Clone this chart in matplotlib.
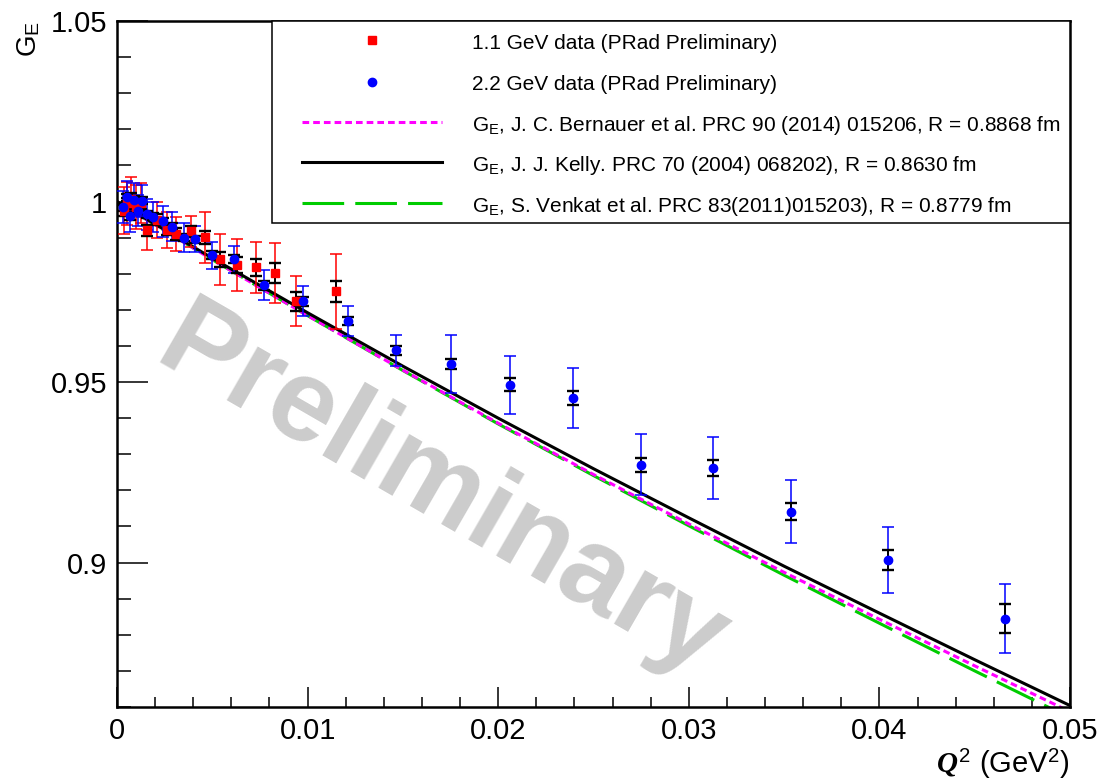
import numpy as np
import matplotlib
matplotlib.use('Agg')
import matplotlib.pyplot as plt
from matplotlib.ticker import MultipleLocator, FixedLocator, FixedFormatter
from matplotlib.patches import Rectangle

plt.rcParams['font.family'] = 'Liberation Sans'
plt.rcParams['mathtext.fontset'] = 'custom'
plt.rcParams['mathtext.rm'] = 'Liberation Sans'
plt.rcParams['mathtext.it'] = 'Liberation Serif:italic:bold'
plt.rcParams['lines.scale_dashes'] = False

# 1.1 GeV data (PRad preliminary)
q2_11 = [0.00035, 0.00055, 0.00075, 0.0010, 0.00125, 0.0016, 0.0021, 0.0026, 0.0031,
         0.0039, 0.0046, 0.0054, 0.0063, 0.0073, 0.0083, 0.0094, 0.0115]
ge_11 = [0.9975, 0.9995, 1.0008, 0.9985, 0.9995, 0.9920, 0.9950, 0.9922, 0.9910,
         0.9917, 0.9901, 0.9840, 0.9823, 0.9818, 0.9802, 0.9724, 0.9751]
tot_11 = [0.0065, 0.006, 0.006, 0.006, 0.0055, 0.0055, 0.005, 0.005, 0.0048,
          0.0044, 0.007, 0.007, 0.0072, 0.007, 0.0083, 0.007, 0.0104]
stat_11 = [0.0015, 0.0015, 0.0015, 0.0015, 0.0015, 0.0015, 0.0015, 0.0015, 0.0016,
           0.0016, 0.0018, 0.002, 0.0022, 0.0024, 0.0028, 0.0026, 0.0028]

# 2.2 GeV data (PRad preliminary)
q2_22 = [0.0003, 0.0005, 0.0007, 0.0009, 0.0011, 0.0013, 0.0016, 0.0019, 0.0024,
         0.0029, 0.0035, 0.0041, 0.0050, 0.00615, 0.0077, 0.00975, 0.0121, 0.01465,
         0.0175, 0.0206, 0.0239, 0.02747, 0.03125, 0.03535, 0.04044, 0.0466]
ge_22 = [0.9985, 1.0012, 0.9960, 1.0005, 0.9975, 1.0002, 0.9965, 0.9958, 0.9945,
         0.9930, 0.9900, 0.9895, 0.9851, 0.9840, 0.9768, 0.9724, 0.9669, 0.9588,
         0.9550, 0.9492, 0.9456, 0.9271, 0.9262, 0.9141, 0.9008, 0.8845]
tot_22 = [0.0045, 0.0045, 0.0045, 0.0045, 0.0044, 0.0044, 0.0043, 0.0042, 0.0042,
          0.004, 0.004, 0.0036, 0.0037, 0.0037, 0.0041, 0.0041, 0.0041, 0.0043,
          0.0081, 0.0081, 0.0083, 0.0084, 0.0087, 0.0088, 0.0091, 0.0095]
stat_22 = [0.001, 0.001, 0.001, 0.001, 0.001, 0.001, 0.001, 0.001, 0.001,
           0.001, 0.001, 0.001, 0.0011, 0.0011, 0.0012, 0.0012, 0.0012, 0.0012,
           0.0015, 0.0018, 0.0019, 0.0020, 0.0022, 0.0024, 0.0028, 0.0040]

# model curves
q2_fit = [0, 0.005, 0.01, 0.015, 0.02, 0.025, 0.03, 0.035, 0.04, 0.045, 0.05]
ge_bernauer = [1.0, 0.9839, 0.9684, 0.9533, 0.9386, 0.9244, 0.9107, 0.8973, 0.8843, 0.8714, 0.8587]
ge_kelly = [1.0, 0.9843, 0.9692, 0.9544, 0.9400, 0.9260, 0.9124, 0.8990, 0.8860, 0.8731, 0.8604]
ge_venkat = [1.0, 0.9839, 0.9684, 0.9532, 0.9384, 0.9241, 0.9102, 0.8965, 0.8832, 0.8700, 0.8570]

labels = ['1.1 GeV data (PRad Preliminary)',
          '2.2 GeV data (PRad Preliminary)',
          r'G$_\mathrm{E}$, J. C. Bernauer et al. PRC 90 (2014) 015206, R = 0.8868 fm',
          r'G$_\mathrm{E}$, J. J. Kelly. PRC 70 (2004) 068202), R = 0.8630 fm',
          r'G$_\mathrm{E}$, S. Venkat et al. PRC 83(2011)015203), R = 0.8779 fm']

W, H = 1101, 781
fig = plt.figure(figsize=(W / 100, H / 100), dpi=100)
x0, x1, y0, y1 = 117, 1070, 21, 707
ax = fig.add_axes([x0 / W, 1 - y1 / H, (x1 - x0) / W, (y1 - y0) / H])

ax.set_xlim(0, 0.05)
ax.set_ylim(0.860, 1.05)

magenta_dash = (0, (4.8, 2.9))
green_dash = (0, (30, 8))
ax.plot(q2_fit, ge_venkat, color='#00cc00', lw=2.2, linestyle=green_dash, zorder=2)
ax.plot(q2_fit, ge_bernauer, color='#ff00ff', lw=2.2, linestyle=magenta_dash, zorder=2.1)
ax.plot(q2_fit, ge_kelly, color='black', lw=2.2, zorder=2.2)

ax.errorbar(q2_11, ge_11, yerr=tot_11, fmt='none', ecolor='red', elinewidth=1.1,
            capsize=4.4, capthick=1.1, zorder=3)
ax.errorbar(q2_22, ge_22, yerr=tot_22, fmt='none', ecolor='blue', elinewidth=1.1,
            capsize=4.4, capthick=1.1, zorder=3)
ax.errorbar(q2_11, ge_11, yerr=stat_11, fmt='none', ecolor='black', elinewidth=1.4,
            capsize=4.4, capthick=1.7, zorder=4)
ax.errorbar(q2_22, ge_22, yerr=stat_22, fmt='none', ecolor='black', elinewidth=1.4,
            capsize=4.4, capthick=1.7, zorder=4)
ax.plot(q2_11, ge_11, 's', color='red', ms=6.2, mec='red', zorder=5)
ax.plot(q2_22, ge_22, 'o', color='blue', ms=6.0, mec='blue', zorder=5)

# watermark
ax.text((442 - x0) / (x1 - x0), (y1 - 494) / (y1 - y0), 'Preliminary',
        transform=ax.transAxes, rotation=-30, fontsize=84, fontweight='bold',
        color='#cccccc', ha='center', va='center', zorder=1)

# axes styling (ROOT look)
ax.xaxis.set_major_locator(FixedLocator([0, 0.01, 0.02, 0.03, 0.04, 0.05]))
ax.xaxis.set_major_formatter(FixedFormatter(['0', '0.01', '0.02', '0.03', '0.04', '0.05']))
ax.xaxis.set_minor_locator(MultipleLocator(0.002))
ax.yaxis.set_major_locator(FixedLocator([0.9, 0.95, 1.0, 1.05]))
ax.yaxis.set_major_formatter(FixedFormatter(['0.9', '0.95', '1', '1.05']))
ax.yaxis.set_minor_locator(MultipleLocator(0.01))
ax.tick_params(which='both', direction='in', top=False, right=False, labelsize=21, width=1.1)
ax.tick_params(axis='x', which='major', length=14.5, pad=7)
ax.tick_params(axis='x', which='minor', length=7.2)
ax.tick_params(axis='y', which='major', length=22, pad=7)
ax.tick_params(axis='y', which='minor', length=10)
for sp in ax.spines.values():
    sp.set_linewidth(1.8)

fig.text(29 / W, 1 - 21 / H, r'G$_\mathrm{E}$', rotation=90, ha='center', va='top', fontsize=20)
fig.text(1069 / W, 1 - 773 / H, r'$\mathit{Q}^{\mathit{2}}$ (GeV$^{\mathrm{2}}$)',
         ha='right', va='baseline', fontsize=21)

# legend box
def fx(px):
    return (px - x0) / (x1 - x0)

def fy(py):
    return (y1 - py) / (y1 - y0)

ax.add_patch(Rectangle((fx(272), fy(223)), fx(1070) - fx(272), fy(21) - fy(223),
                       transform=ax.transAxes, facecolor='white', edgecolor='black',
                       lw=1.1, zorder=6, clip_on=False))
rows = [40, 81.5, 122, 162, 203]
ax.plot([fx(372)], [fy(rows[0])], 's', color='red', ms=6.2, transform=ax.transAxes, zorder=7, clip_on=False)
ax.plot([fx(372)], [fy(rows[1])], 'o', color='blue', ms=6.0, transform=ax.transAxes, zorder=7, clip_on=False)
ax.plot([fx(302), fx(442)], [fy(rows[2])] * 2, color='#ff00ff', lw=2.2, linestyle=magenta_dash,
        transform=ax.transAxes, zorder=7, clip_on=False)
ax.plot([fx(302), fx(442)], [fy(rows[3])] * 2, color='black', lw=2.2,
        transform=ax.transAxes, zorder=7, clip_on=False)
ax.plot([fx(302), fx(442)], [fy(rows[4])] * 2, color='#00cc00', lw=2.2, linestyle=green_dash,
        transform=ax.transAxes, zorder=7, clip_on=False)
for r, lab in zip(rows, labels):
    ax.text(fx(472), fy(r + 9), lab, transform=ax.transAxes, fontsize=15,
            va='baseline', ha='left', zorder=8)

fig.savefig('out.png', dpi=100)
